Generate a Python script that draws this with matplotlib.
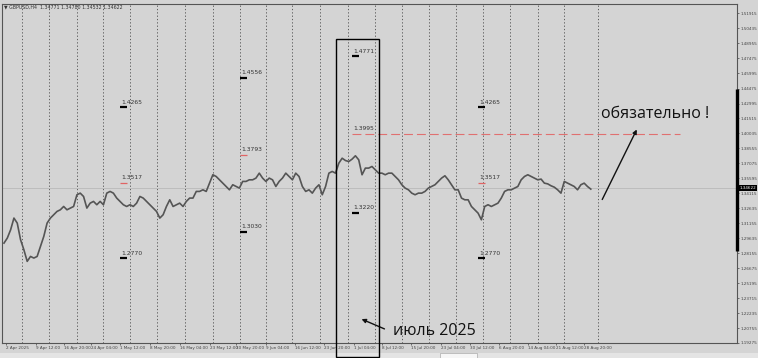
import numpy as np
import matplotlib.pyplot as plt
from matplotlib.patches import Rectangle

# GBPUSD H4, close prices (one point every ~3.3 px)
price = [1.2917, 1.2967, 1.3049, 1.3165, 1.3115, 1.2950, 1.2851, 1.2736, 1.2785, 1.2769,
         1.2785, 1.2884, 1.2983, 1.3115, 1.3165, 1.3198, 1.3231, 1.3247, 1.3280, 1.3247,
         1.3264, 1.3280, 1.3396, 1.3412, 1.3379, 1.3264, 1.3313, 1.3330, 1.3297, 1.3330,
         1.3297, 1.3412, 1.3429, 1.3412, 1.3363, 1.3330, 1.3297, 1.3280, 1.3297, 1.3280,
         1.3313, 1.3379, 1.3363, 1.3330, 1.3297, 1.3264, 1.3231, 1.3165, 1.3198, 1.3280,
         1.3346, 1.3280, 1.3297, 1.3313, 1.3280, 1.3330, 1.3363, 1.3363, 1.3429, 1.3429,
         1.3445, 1.3429, 1.3511, 1.3594, 1.3577, 1.3544, 1.3511, 1.3478, 1.3445, 1.3495,
         1.3478, 1.3462, 1.3528, 1.3528, 1.3544, 1.3544, 1.3561, 1.3610, 1.3561, 1.3528,
         1.3561, 1.3544, 1.3478, 1.3528, 1.3561, 1.3610, 1.3577, 1.3544, 1.3610, 1.3577,
         1.3478, 1.3429, 1.3445, 1.3412, 1.3462, 1.3495, 1.3396, 1.3478, 1.3610, 1.3627,
         1.3610, 1.3709, 1.3758, 1.3735, 1.3725, 1.3749, 1.3782, 1.3742, 1.3594, 1.3660,
         1.3660, 1.3676, 1.3643, 1.3610, 1.3610, 1.3594, 1.3610, 1.3610, 1.3577, 1.3544,
         1.3495, 1.3462, 1.3445, 1.3412, 1.3396, 1.3412, 1.3412, 1.3429, 1.3462, 1.3478,
         1.3495, 1.3528, 1.3561, 1.3584, 1.3544, 1.3495, 1.3445, 1.3445, 1.3363, 1.3346,
         1.3346, 1.3280, 1.3247, 1.3214, 1.3148, 1.3280, 1.3297, 1.3280, 1.3297, 1.3313,
         1.3363, 1.3429, 1.3445, 1.3445, 1.3462, 1.3478, 1.3544, 1.3577, 1.3594, 1.3577,
         1.3561, 1.3544, 1.3551, 1.3511, 1.3504, 1.3485, 1.3471, 1.3445, 1.3412, 1.3528,
         1.3511, 1.3495, 1.3478, 1.3445, 1.3495, 1.3511, 1.3478, 1.3452]
bid = 1.34622

# levels drawn by hand: (bar, price, colour of the mark)
levels = [(35.1, 1.4265, 'k'), (35.1, 1.3517, 'r'), (35.1, 1.2770, 'k'),
          (71.1, 1.4556, 'k'), (71.1, 1.3793, 'r'), (71.1, 1.3030, 'k'),
          (105.0, 1.4771, 'k'), (105.0, 1.3220, 'k'),
          (143.1, 1.4265, 'k'), (143.1, 1.3517, 'r'), (143.1, 1.2770, 'k')]
must_level = 1.3995

ytick_vals = [1.51915, 1.50435, 1.48955, 1.47475, 1.45995, 1.44475, 1.42995, 1.41515,
              1.40035, 1.38555, 1.37075, 1.35595, 1.34115, 1.32635, 1.31155, 1.29635,
              1.28155, 1.26675, 1.25195, 1.23715, 1.22235, 1.20755, 1.19275]
date_labels = ['2 Apr 2025', '9 Apr 12:00', '16 Apr 20:00', '24 Apr 04:00', '1 May 12:00',
               '8 May 20:00', '16 May 04:00', '23 May 12:00', '30 May 20:00', '9 Jun 04:00',
               '16 Jun 12:00', '23 Jun 20:00', '1 Jul 04:00', '8 Jul 12:00', '15 Jul 20:00',
               '23 Jul 04:00', '30 Jul 12:00', '6 Aug 20:00', '14 Aug 04:00', '21 Aug 12:00',
               '28 Aug 20:00']
date_pos = [0.6, 9.6, 18.0, 26.1, 35.1, 44.1, 53.1, 62.1, 69.9, 78.9, 87.9, 96.6, 105.6,
            114.0, 122.7, 131.7, 140.7, 149.4, 158.1, 166.5, 174.9]
grid_pos = [5.4, 13.5, 21.9, 30.0, 38.1, 46.2, 54.6, 63.0, 71.1, 78.9, 87.0, 95.4, 103.8,
            111.9, 120.0, 128.1, 136.2, 144.6, 152.7, 161.1, 168.9, 179.1]

W, H = 758, 358
bg = '#d4d4d4'

def fp(x, y):
    # screen pixel -> figure fraction
    return (x / W, 1 - y / H)

fig = plt.figure(figsize=(W / 100, H / 100), dpi=100, facecolor=bg)
ax = fig.add_axes([2 / W, (H - 343) / H, 735 / W, 339 / H])
ax.set_facecolor(bg)
ax.set_xlim(-0.6, 221.1)
ax.set_ylim(1.19275, 1.52856)

for s in ax.spines.values():
    s.set_color('#555555')
    s.set_linewidth(0.8)

for g in grid_pos:
    ax.axvline(g, color='#4a4a4a', lw=0.6, ls=(0, (1.5, 2.5)), zorder=1)

ax.axhline(bid, color='#bdbdbd', lw=0.7, zorder=1)
ax.plot(np.arange(len(price)), price, color='#555555', lw=1.2, zorder=3)

# levels
for x0, lvl, c in levels:
    if c == 'k':
        ax.plot([x0, x0 + 2.1], [lvl, lvl], color='black', lw=1.6, solid_capstyle='butt', zorder=4)
    else:
        ax.plot([x0, x0 + 2.1], [lvl, lvl], color='#e06464', lw=0.9, solid_capstyle='butt', zorder=4)
    ax.annotate('%.4f' % lvl, (x0, lvl), xytext=(1.0, 1.6), textcoords='offset points',
                fontsize=4.3, color='#333333', va='bottom', ha='left')

ax.plot([105.0, 204.0], [must_level, must_level], color='#e07070', lw=0.8,
        ls=(0, (8, 3.6)), zorder=2)
ax.annotate('%.4f' % must_level, (105.0, must_level), xytext=(1.0, 2.6),
            textcoords='offset points', fontsize=4.3, color='#333333', va='bottom', ha='left')

# right price scale
ax.yaxis.tick_right()
ax.set_yticks(ytick_vals)
ax.set_yticklabels(['%.5f' % v for v in ytick_vals])
ax.tick_params(axis='y', direction='out', length=1.5, width=0.5, pad=0.8,
               labelsize=3.0, colors='#444444')
ax.set_xticks(date_pos)
ax.set_xticklabels(date_labels, ha='left')
ax.tick_params(axis='x', direction='out', length=1.5, width=0.5, pad=0.8,
               labelsize=3.0, colors='#444444')

ax.text(1.003, bid, '%.5f' % bid, transform=ax.get_yaxis_transform(), ha='left', va='center',
        fontsize=3.0, color='white', bbox=dict(facecolor='black', edgecolor='none', pad=0.5),
        zorder=6, clip_on=False)
ax.plot([1.0, 1.0], [1.4439, 1.2835], transform=ax.get_yaxis_transform(), color='black',
        lw=2.4, solid_capstyle='butt', clip_on=False, zorder=5)

fig.text(*fp(4, 7), '\u25bc GBPUSD,H4  1.34771 1.34780 1.34532 1.34622', fontsize=3.4,
         color='#333333', va='center', ha='left')

# bottom tab strip
fig.add_artist(Rectangle(fp(0, 358), 1, 5 / H, transform=fig.transFigure,
                         facecolor='#e4e4e4', edgecolor='none'))
fig.add_artist(Rectangle(fp(440, 358), 37 / W, 5 / H, transform=fig.transFigure,
                         facecolor='#f6f6f6', edgecolor='#aaaaaa', lw=0.5))

# hand drawn marks
fig.add_artist(Rectangle(fp(336, 357), 43 / W, 318 / H, transform=fig.transFigure,
                         fill=False, edgecolor='black', lw=1.0))
fig.text(*fp(601, 114), 'обязательно !', fontsize=11.5, family='Open Sans',
         ha='left', va='center', color='#111111')
fig.text(*fp(393, 331), 'июль 2025', fontsize=11.5, family='Open Sans',
         ha='left', va='center', color='#111111')
ax.annotate('', xy=fp(638, 127), xytext=fp(601, 202), xycoords='figure fraction',
            textcoords='figure fraction',
            arrowprops=dict(arrowstyle='-|>', color='#111111', lw=1.0, mutation_scale=6))
ax.annotate('', xy=fp(359, 318), xytext=fp(387, 330), xycoords='figure fraction',
            textcoords='figure fraction',
            arrowprops=dict(arrowstyle='-|>', color='#111111', lw=1.0, mutation_scale=6))

fig.savefig('out.png', dpi=100, facecolor=bg)
